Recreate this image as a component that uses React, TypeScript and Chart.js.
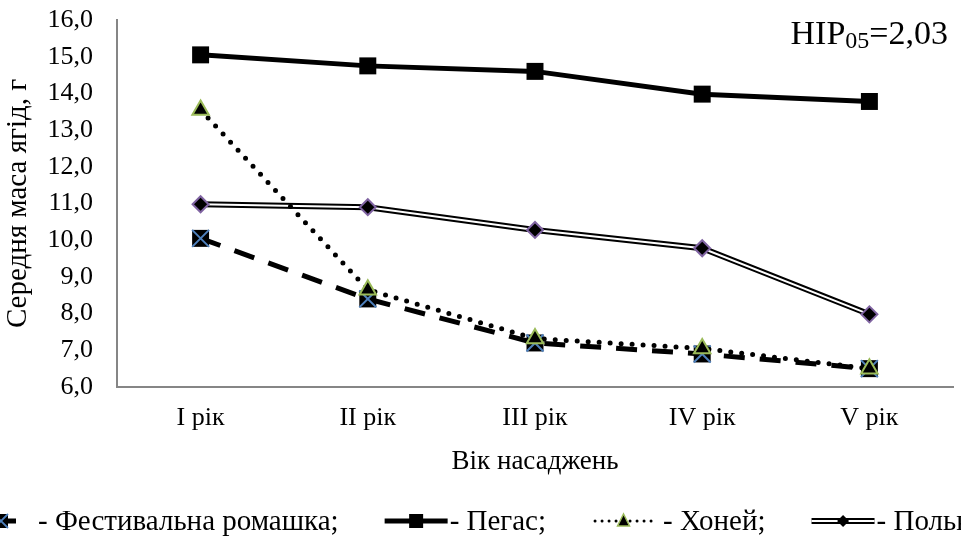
import React, { useEffect, useRef } from "react";
import { Chart, registerables } from "chart.js";

Chart.register(...registerables);

const categories = ["I рік", "II рік", "III рік", "IV рік", "V рік"];
const festivalna = [10.05, 8.4, 7.2, 6.9, 6.5];
const pegas = [15.05, 14.75, 14.6, 13.98, 13.78];
const honey = [13.55, 8.65, 7.32, 7.05, 6.5];
const polka = [10.98, 10.9, 10.28, 9.78, 7.98];
const seriesNames = ["Фестивальна ромашка", "Пегас", "Хоней", "Полька"];
const yTitle = "Середня маса ягід, г";
const xTitle = "Вік насаджень";
const yMin = 6;
const yMax = 16;
const yStep = 1;

const SERIF = "'Liberation Serif', 'Times New Roman', serif";
const GREEN = "#9BBB59";
const PURPLE = "#8064A2";
const BLUE = "#4F81BD";

function drawMarker(ctx: CanvasRenderingContext2D, kind: string, x: number, y: number) {
  ctx.save();
  if (kind === "fest") {
    ctx.fillStyle = "#000";
    ctx.fillRect(x - 7, y - 7, 14, 14);
    ctx.strokeStyle = BLUE;
    ctx.lineWidth = 1.8;
    ctx.beginPath();
    ctx.moveTo(x - 7, y - 7); ctx.lineTo(x + 7, y + 7);
    ctx.moveTo(x + 7, y - 7); ctx.lineTo(x - 7, y + 7);
    ctx.stroke();
  } else if (kind === "pegas") {
    ctx.fillStyle = "#000";
    ctx.fillRect(x - 7, y - 7, 14, 14);
  } else if (kind === "honey") {
    ctx.fillStyle = "#000";
    ctx.strokeStyle = GREEN;
    ctx.lineWidth = 1.5;
    ctx.beginPath();
    ctx.moveTo(x, y - 7); ctx.lineTo(x + 6, y + 5); ctx.lineTo(x - 6, y + 5); ctx.closePath();
    ctx.fill(); ctx.stroke();
  } else {
    ctx.fillStyle = "#000";
    ctx.beginPath();
    ctx.moveTo(x, y - 6); ctx.lineTo(x + 6, y); ctx.lineTo(x, y + 6); ctx.lineTo(x - 6, y); ctx.closePath();
    ctx.fill();
  }
  ctx.restore();
}

function drawSample(ctx: CanvasRenderingContext2D, kind: string, x: number, y: number, w: number) {
  ctx.save();
  ctx.strokeStyle = "#000";
  if (kind === "fest") {
    ctx.lineWidth = 5;
    ctx.setLineDash([14, 8]);
    ctx.beginPath(); ctx.moveTo(x, y); ctx.lineTo(x + w, y); ctx.stroke();
  } else if (kind === "pegas") {
    ctx.lineWidth = 5;
    ctx.beginPath(); ctx.moveTo(x, y); ctx.lineTo(x + w, y); ctx.stroke();
  } else if (kind === "honey") {
    ctx.lineWidth = 3;
    ctx.lineCap = "round";
    ctx.setLineDash([0, 7]);
    ctx.beginPath(); ctx.moveTo(x + 3, y); ctx.lineTo(x + w, y); ctx.stroke();
  } else {
    ctx.lineWidth = 6;
    ctx.beginPath(); ctx.moveTo(x, y); ctx.lineTo(x + w, y); ctx.stroke();
    ctx.strokeStyle = "#fff";
    ctx.lineWidth = 2;
    ctx.beginPath(); ctx.moveTo(x, y); ctx.lineTo(x + w, y); ctx.stroke();
  }
  ctx.restore();
  drawMarker(ctx, kind, x + w / 2, y);
}

const extrasPlugin = {
  id: "extras",
  afterDraw(chart: any) {
    const ctx: CanvasRenderingContext2D = chart.ctx;
    // NIR label
    ctx.save();
    ctx.fillStyle = "#000";
    ctx.textBaseline = "alphabetic";
    const big = `34px ${SERIF}`;
    const small = `24px ${SERIF}`;
    ctx.font = big;
    const p1 = "НІР";
    const p3 = "=2,03";
    const w1 = ctx.measureText(p1).width;
    const w3 = ctx.measureText(p3).width;
    ctx.font = small;
    const w2 = ctx.measureText("05").width;
    const right = 948;
    const base = 44;
    let x = right - (w1 + w2 + w3);
    ctx.font = big;
    ctx.fillText(p1, x, base);
    x += w1;
    ctx.font = small;
    ctx.fillText("05", x, base + 4);
    x += w2;
    ctx.font = big;
    ctx.fillText(p3, x, base);
    ctx.restore();

    // Legend
    ctx.save();
    ctx.font = `29px ${SERIF}`;
    ctx.fillStyle = "#000";
    ctx.textBaseline = "middle";
    const kinds = ["fest", "pegas", "honey", "polka"];
    const sampleW = [30, 63, 63, 63];
    const gapAfterSample = [22, 2, 8, 2];
    const ly = 521;
    let lx = -14;
    kinds.forEach((k, i) => {
      const sw = sampleW[i];
      drawSample(ctx, k, lx, ly, sw);
      lx += sw + gapAfterSample[i];
      const txt = "- " + seriesNames[i] + ";";
      ctx.fillText(txt, lx, ly + 1);
      lx += ctx.measureText(txt).width + 46;
    });
    ctx.restore();
  },
};

export default function App() {
  const ref = useRef<HTMLCanvasElement | null>(null);
  useEffect(() => {
    if (!ref.current) return;
    const chart = new Chart(ref.current, {
      type: "line",
      data: {
        labels: categories,
        datasets: [
          {
            label: seriesNames[3] + "-outer",
            data: polka,
            borderColor: "#000",
            borderWidth: 6,
            pointRadius: 0,
            order: 10,
          },
          {
            label: seriesNames[3],
            data: polka,
            borderColor: "#fff",
            borderWidth: 2,
            pointStyle: "rectRot",
            pointRadius: 8,
            pointBorderWidth: 2,
            pointBorderColor: PURPLE,
            pointBackgroundColor: "#000",
            order: 9,
          },
          {
            label: seriesNames[0],
            data: festivalna,
            borderColor: "#000",
            borderWidth: 5,
            borderDash: [21, 15],
            pointStyle: "rect",
            pointRadius: 12,
            pointBorderWidth: 0,
            pointBackgroundColor: "#000",
            order: 8,
          },
          {
            label: seriesNames[0] + "-x",
            data: festivalna,
            showLine: false,
            borderColor: BLUE,
            pointStyle: "crossRot",
            pointRadius: 12,
            pointBorderWidth: 2,
            pointBorderColor: BLUE,
            order: 7,
          },
          {
            label: seriesNames[1],
            data: pegas,
            borderColor: "#000",
            borderWidth: 5,
            pointStyle: "rect",
            pointRadius: 12,
            pointBorderWidth: 0,
            pointBackgroundColor: "#000",
            order: 6,
          },
          {
            label: seriesNames[2],
            data: honey,
            borderColor: "#000",
            borderWidth: 5,
            borderDash: [0, 11],
            borderCapStyle: "round",
            pointStyle: "triangle",
            pointRadius: 9.5,
            pointBorderWidth: 2,
            pointBorderColor: GREEN,
            pointBackgroundColor: "#000",
            order: 5,
          },
        ],
      },
      options: {
        animation: false,
        responsive: false,
        maintainAspectRatio: false,
        layout: { autoPadding: false, padding: { top: 20, right: 8, left: 0, bottom: 57 } },
        plugins: {
          legend: { display: false },
          tooltip: { enabled: false },
          title: { display: false },
        },
        scales: {
          x: {
            offset: true,
            grid: { display: false, drawTicks: false, offset: true },
            border: { display: true, color: "#868686", width: 2 },
            ticks: { color: "#000", font: { family: SERIF, size: 26 }, padding: 16 },
            title: {
              display: true,
              text: xTitle,
              color: "#000",
              font: { family: SERIF, size: 27 },
              padding: { top: 4, bottom: 9 },
            },
            afterFit: (s: any) => { s.height = 100; },
          },
          y: {
            min: yMin,
            max: yMax,
            grid: { display: false, drawTicks: false },
            border: { display: true, color: "#868686", width: 2 },
            ticks: {
              stepSize: yStep,
              color: "#000",
              font: { family: SERIF, size: 26 },
              padding: 24,
              callback: (v: any) => Number(v).toFixed(1).replace(".", ","),
            },
            title: {
              display: true,
              text: yTitle,
              color: "#000",
              font: { family: SERIF, size: 29 },
              padding: { top: 1, bottom: 4 },
            },
            afterFit: (s: any) => {
              s.width = 117;
              s.paddingTop = 0;
              s.paddingBottom = 0;
            },
          },
        },
      },
      plugins: [extrasPlugin],
    });
    return () => chart.destroy();
  }, []);
  return (
    <div style={{ position: "absolute", left: 0, top: 0, width: 961, height: 544, background: "#fff" }}>
      <canvas ref={ref} width={961} height={544} style={{ width: 961, height: 544 }} />
    </div>
  );
}
